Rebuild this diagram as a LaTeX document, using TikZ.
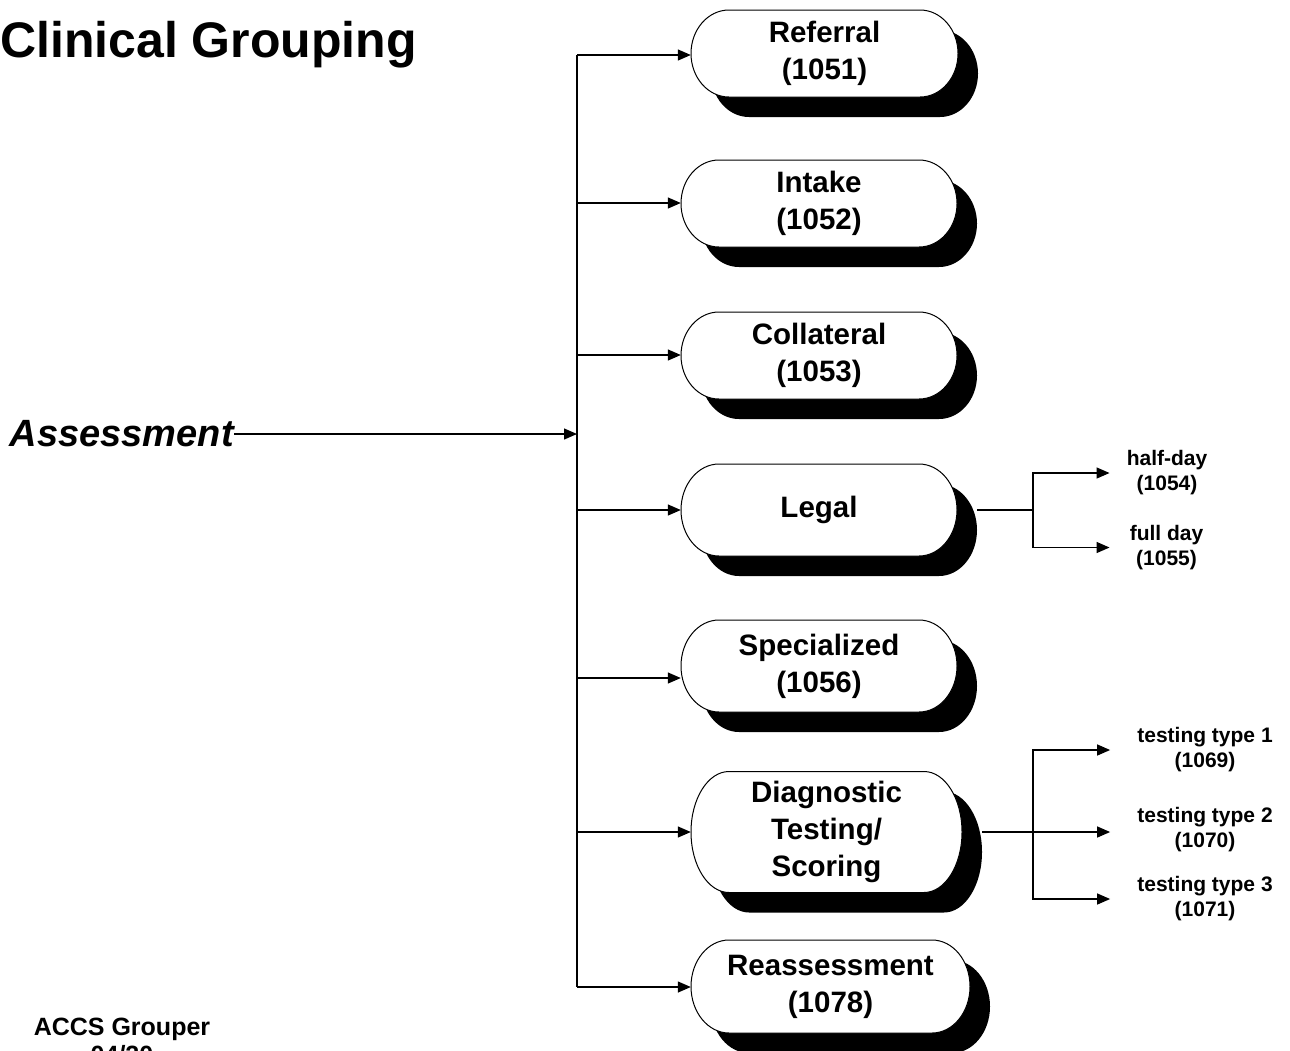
\documentclass[tikz,border=0pt]{standalone}
\usepackage{fontspec}
\setmainfont{Liberation Sans}
\usetikzlibrary{arrows.meta}
\tikzset{
  ln/.style={line width=1.3pt},
  arr/.style={line width=1.3pt,-{Triangle[length=13pt,width=11pt]}},
  boxline/.style={line width=1pt},
  boxtext/.style={inner sep=0pt,align=center,font=\fontsize{29.5}{37}\selectfont\bfseries},
  subtext/.style={inner sep=0pt,align=center,font=\fontsize{21}{25}\selectfont\bfseries}
}
\newcommand\stbox[6]{%
  \fill[black,shift={(20,-20)}] ({#2-#4+38},{#3-#5}) -- ({#2+#4-38},{#3-#5})
    arc[start angle=-90,end angle=90,x radius=38pt,y radius=#5pt] -- ({#2-#4+38},{#3+#5})
    arc[start angle=90,end angle=270,x radius=38pt,y radius=#5pt] -- cycle;
  \draw[boxline,fill=white] ({#2-#4+38},{#3-#5}) -- ({#2+#4-38},{#3-#5})
    arc[start angle=-90,end angle=90,x radius=38pt,y radius=#5pt] -- ({#2-#4+38},{#3+#5})
    arc[start angle=90,end angle=270,x radius=38pt,y radius=#5pt] -- cycle;
  \node[boxtext,minimum width={2*#4},minimum height={2*#5}] (#1) at (#2,#3) {#6};}
\begin{document}
\begin{tikzpicture}[x=1pt,y=1pt]
\useasboundingbox (0,0) rectangle (1290,-1050);
\clip (0,0) rectangle (1290,-1050);

% title
\node[anchor=base west,inner sep=0pt,font=\fontsize{50}{56}\selectfont\bfseries] (title) at (0,-57) {Clinical Grouping};

% boxes
\stbox{ref}{824.5}{-53.5}{133.5}{43.5}{Referral\\(1051)}
\stbox{intake}{819}{-203.5}{138}{43.5}{Intake\\(1052)}
\stbox{coll}{819}{-355.5}{138}{43.5}{Collateral\\(1053)}
\stbox{legal}{819}{-510}{138}{46}{Legal}
\stbox{spec}{819}{-666}{138}{46}{Specialized\\(1056)}
\stbox{diag}{826.5}{-832}{135.5}{60.5}{Diagnostic\\Testing/\\Scoring}
\stbox{reas}{830.5}{-986.5}{139.5}{46.5}{Reassessment\\(1078)}

% spine
\coordinate (s1) at (577,-55);
\coordinate (s2) at (577,-203);
\coordinate (s3) at (577,-355);
\coordinate (s4) at (577,-510);
\coordinate (s5) at (577,-678);
\coordinate (s6) at (577,-832);
\coordinate (s7) at (577,-987);
\coordinate (sa) at (577,-434);
\draw[ln] (s1) -- (s7);
\draw[arr] (s1) -- (s1 -| ref.west);
\draw[arr] (s2) -- (s2 -| intake.west);
\draw[arr] (s3) -- (s3 -| coll.west);
\draw[arr] (s4) -- (s4 -| legal.west);
\draw[arr] (s5) -- (s5 -| spec.west);
\draw[arr] (s6) -- (s6 -| diag.west);
\draw[arr] (s7) -- (s7 -| reas.west);

% assessment
\node[anchor=east,inner sep=0pt,font=\fontsize{38}{42}\selectfont\bfseries\itshape] (as) at (234,-434) {Assessment};
\draw[arr] (as.east) -- (sa);

% legal sub-branches
\node[subtext] (hd) at (1167,-473) {half-day\\(1054)};
\node[subtext] (fd) at (1166.5,-547.5) {full day\\(1055)};
\coordinate (jl) at (1033,-510);
\draw[ln] ([xshift=20pt]legal.east) -- (jl);
\draw[arr] (jl) |- ([xshift=-17pt]hd.west);
\draw[arr] (jl) |- ([xshift=-20pt]fd.west);

% diagnostic sub-branches
\node[subtext] (t1) at (1205,-750) {testing type 1\\(1069)};
\node[subtext] (t2) at (1205,-830) {testing type 2\\(1070)};
\node[subtext] (t3) at (1205,-899) {testing type 3\\(1071)};
\coordinate (jd) at (1033,-832);
\coordinate (t2a) at ([xshift=-27pt]t2.west);
\draw[ln] ([xshift=20pt]diag.east) -- (jd);
\draw[arr] (jd) |- ([xshift=-27pt]t1.west);
\draw[arr] (jd) -- (jd -| t2a);
\draw[arr] (jd) |- ([xshift=-27pt]t3.west);

% footer
\node[anchor=north,inner sep=0pt,align=center,font=\fontsize{25}{28}\selectfont\bfseries] (foot) at (122,-1018) {ACCS Grouper\\04/20};
\end{tikzpicture}
\end{document}
